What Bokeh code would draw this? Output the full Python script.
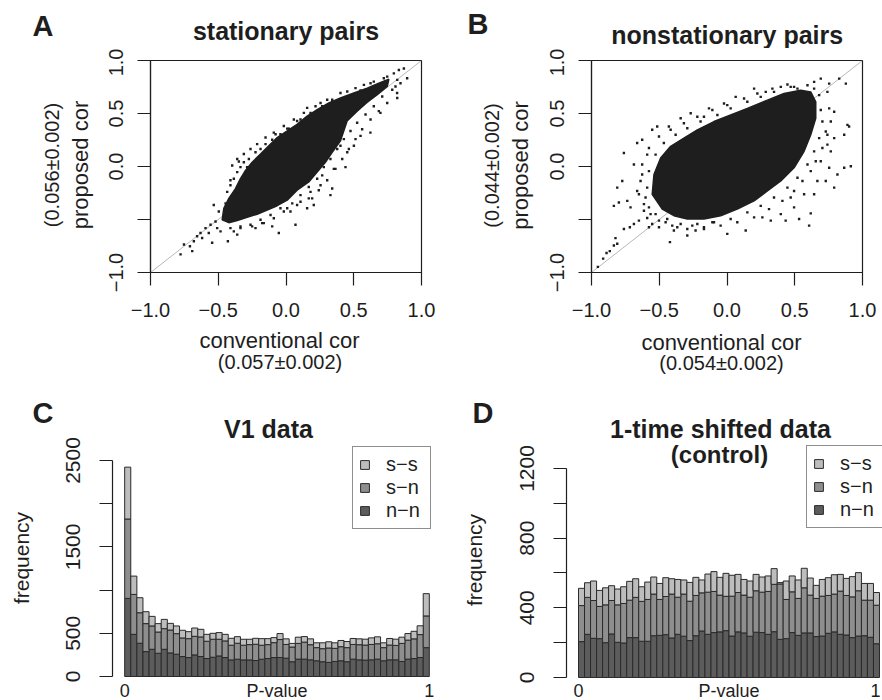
import math
from bokeh.plotting import figure
from bokeh.layouts import column, row
from bokeh.models import ColumnDataSource, FixedTicker, Label, Legend, LegendItem, Range1d
from bokeh.embed import file_html
from bokeh.resources import INLINE

FONT = "Liberation Sans"
INK = "#1e1e1e"
C_SS = "#bdbdbd"
C_SN = "#8e8e8e"
C_NN = "#5c5c5c"

# ---------------- data: correlation scatter panels ----------------
corr_ticks = [-1.0, -0.5, 0.0, 0.5, 1.0]
corr_x_labels = ["−1.0", "−0.5", "0.0", "0.5", "1.0"]
corr_y_labels = ["−1.0", "", "0.0", "0.5", "1.0"]
diag = [-1.0, 1.0]

# stationary pairs: outline of the dense core (conventional cor, proposed cor)
a_core_x = [-0.471, -0.459, -0.422, -0.373, -0.336, -0.299, -0.250, -0.188, -0.127, -0.065,
            0.009, 0.082, 0.156, 0.230, 0.316, 0.402, 0.501, 0.599, 0.685, 0.759,
            0.747, 0.673, 0.599, 0.525, 0.451, 0.402, 0.341, 0.291, 0.230, 0.168,
            0.082, 0.009, -0.065, -0.139, -0.213, -0.287, -0.360, -0.422]
a_core_y = [-0.503, -0.394, -0.301, -0.208, -0.115, -0.037, 0.040, 0.118, 0.196, 0.273,
            0.335, 0.398, 0.475, 0.537, 0.599, 0.646, 0.693, 0.739, 0.786, 0.823,
            0.755, 0.677, 0.606, 0.522, 0.429, 0.242, 0.134, 0.040, -0.053, -0.146,
            -0.224, -0.317, -0.370, -0.410, -0.450, -0.480, -0.510, -0.530]
# stationary pairs: individual pairs around the core
a_pts_x = [-0.778, -0.753, -0.709, -0.692, -0.680, -0.656, -0.631, -0.619, -0.594, -0.570,
           -0.557, -0.545, -0.520, -0.508, -0.483, -0.429, -0.385, -0.360, -0.336, -0.262,
           -0.225, -0.176, -0.102, -0.053, 0.070, -0.533, -0.496, -0.446, -0.410, -0.348,
           -0.287, -0.077, 0.009, 0.082, 0.156, 0.255, 0.341, 0.452, 0.575, 0.648,
           0.747, 0.796, 0.833, 0.870, 0.821, 0.808, 0.821, 0.697, 0.623, 0.550,
           0.501, 0.439, 0.341, 0.328, 0.193, 0.205, 0.156, 0.402, 0.452, 0.353,
           0.267, 0.255, 0.181, 0.107, 0.033, 0.009,
           -0.360, -0.336, -0.311, -0.274, -0.225, -0.188, -0.151, -0.102, -0.041, 0.021,
           0.107, 0.181, 0.267, 0.365, 0.476, 0.550, 0.648, 0.734, -0.385, -0.410,
           -0.434, 0.845, 0.784, 0.710, 0.648, 0.587, 0.525, 0.476, 0.427, 0.378,
           0.328, 0.279, 0.230, 0.168, 0.107, 0.046, -0.041, -0.114, -0.188, -0.336,
           -0.410,
           -0.397, -0.360, -0.311, -0.262, -0.213, -0.151, -0.090, -0.016, 0.058, 0.132,
           0.218, 0.304, 0.402, 0.513, 0.624, 0.722, 0.894, 0.820, 0.747, 0.685,
           0.624, 0.562, 0.513, 0.464, 0.415, 0.365, 0.304, 0.242, 0.168, 0.082,
           -0.016, -0.090, -0.164, -0.250]
a_pts_y = [-0.829, -0.736, -0.752, -0.798, -0.705, -0.658, -0.627, -0.674, -0.581, -0.627,
           -0.550, -0.720, -0.519, -0.581, -0.612, -0.705, -0.612, -0.643, -0.581, -0.550,
           -0.581, -0.534, -0.565, -0.627, -0.550, -0.363, -0.425, -0.348, -0.130, 0.047,
           -0.006, 0.304, 0.357, 0.429, 0.553, 0.599, 0.630, 0.708, 0.770, 0.801,
           0.848, 0.879, 0.910, 0.925, 0.817, 0.755, 0.646, 0.506, 0.320, 0.289,
           0.196, -0.006, -0.208, -0.270, -0.301, -0.363, -0.394, 0.196, 0.134, -0.022,
           -0.084, -0.177, -0.239, -0.332, -0.425, -0.394,
           -0.053, -0.006, 0.040, 0.071, 0.134, 0.165, 0.211, 0.252, 0.304, 0.357,
           0.444, 0.506, 0.568, 0.615, 0.668, 0.717, 0.755, 0.801, -0.115, -0.177,
           -0.239, 0.786, 0.724, 0.661, 0.568, 0.491, 0.413, 0.335, 0.258, 0.165,
           0.071, -0.006, -0.115, -0.193, -0.270, -0.348, -0.394, -0.457, -0.503, -0.565,
           -0.581,
           0.009, 0.071, 0.118, 0.165, 0.211, 0.273, 0.320, 0.382, 0.444, 0.506,
           0.568, 0.630, 0.693, 0.739, 0.786, 0.832, 0.832, 0.693, 0.599, 0.522,
           0.444, 0.351, 0.258, 0.165, 0.071, -0.022, -0.130, -0.224, -0.301, -0.363,
           -0.425, -0.488, -0.534, -0.565]

# nonstationary pairs: outline of the dense core
b_core_x = [-0.552, -0.539, -0.490, -0.416, -0.318, -0.219, -0.096, 0.027, 0.150, 0.298,
            0.421, 0.544, 0.618, 0.655, 0.655, 0.618, 0.569, 0.495, 0.397, 0.298,
            0.200, 0.076, -0.047, -0.170, -0.293, -0.392, -0.478]
b_core_y = [-0.262, -0.075, 0.081, 0.190, 0.268, 0.346, 0.424, 0.486, 0.548, 0.626,
            0.688, 0.720, 0.704, 0.611, 0.455, 0.299, 0.143, -0.012, -0.137, -0.231,
            -0.324, -0.402, -0.464, -0.495, -0.495, -0.464, -0.402]
# nonstationary pairs: individual pairs around the core
b_pts_x = [-0.953, -0.914, -0.889, -0.865, -0.835, -0.810, -0.823, -0.761, -0.717, -0.687,
           -0.650, -0.589, -0.576, -0.552, -0.502, -0.453, -0.421, -0.392, -0.367, -0.293,
           -0.256, -0.232, -0.170, -0.108, 0.002, 0.138, 0.261, 0.323, 0.397, 0.433,
           0.532, 0.606, 0.618, 0.495, 0.791, 0.729, 0.815, 0.865, 0.914, 0.889,
           0.901, 0.865, 0.791, 0.877, 0.828, 0.754, 0.692, 0.643, 0.520, 0.470,
           0.397, 0.286, 0.200, 0.064, -0.022, -0.133, -0.170, -0.268, -0.342, -0.429,
           -0.515, -0.552, -0.626, -0.663, -0.687, -0.773, -0.761, -0.810, -0.835, -0.798,
           -0.736, -0.712, -0.663, -0.626, -0.589, -0.613, 0.741, 0.766, 0.692, 0.729,
           0.791, 0.754, 0.667, 0.643, 0.569, 0.470,
           -0.589, -0.601, -0.576, -0.527, -0.466, -0.379, -0.293, -0.195, -0.071, 0.027,
           0.150, 0.249, 0.347, 0.495, 0.594, 0.680, 0.692, 0.704, 0.680, 0.643,
           0.594, 0.520, 0.446, 0.347, 0.249, 0.150, 0.027, -0.096, -0.219, -0.342,
           -0.441, -0.527, -0.576,
           -0.638, -0.650, -0.626, -0.576, -0.502, -0.416, -0.318, -0.219, -0.108, 0.002,
           0.126, 0.224, 0.335, 0.446, 0.643, 0.741, 0.754, 0.766, 0.741, 0.704,
           0.655, 0.618, 0.557, 0.495, 0.409, 0.310, 0.200, 0.076, -0.047, -0.170,
           -0.293, -0.404, -0.502, -0.564, -0.613]
b_pts_y = [-0.947, -0.869, -0.816, -0.798, -0.745, -0.729, -0.676, -0.589, -0.573, -0.542,
           -0.511, -0.486, -0.573, -0.542, -0.573, -0.526, -0.713, -0.604, -0.573, -0.651,
           -0.558, -0.604, -0.573, -0.526, -0.636, -0.604, -0.480, -0.511, -0.449, -0.511,
           -0.495, -0.558, -0.442, -0.386, -0.199, -0.137, -0.075, -0.012, 0.003, 0.393,
           0.377, 0.299, 0.517, 0.782, 0.829, 0.782, 0.829, 0.735, 0.735, 0.751,
           0.751, 0.704, 0.735, 0.657, 0.595, 0.548, 0.470, 0.502, 0.455, 0.377,
           0.377, 0.346, 0.252, 0.221, 0.019, -0.137, 0.128, -0.199, -0.371, -0.340,
           -0.324, -0.386, -0.231, -0.075, 0.112, -0.417, 0.206, 0.143, 0.050, 0.330,
           0.268, -0.012, -0.137, -0.262, -0.262, -0.293,
           -0.199, -0.293, -0.044, 0.112, 0.221, 0.299, 0.361, 0.424, 0.486, 0.548,
           0.611, 0.657, 0.704, 0.751, 0.766, 0.673, 0.533, 0.424, 0.268, 0.143,
           0.019, -0.106, -0.199, -0.293, -0.371, -0.433, -0.495, -0.526, -0.542, -0.542,
           -0.495, -0.449, -0.386,
           -0.137, -0.262, 0.019, 0.174, 0.283, 0.346, 0.408, 0.470, 0.533, 0.579,
           0.642, 0.688, 0.735, 0.773, 0.798, 0.704, 0.548, 0.424, 0.299, 0.174,
           0.050, -0.044, -0.137, -0.231, -0.324, -0.402, -0.480, -0.526, -0.558, -0.589,
           -0.589, -0.558, -0.511, -0.449, -0.355]

# ---------------- data: P-value histograms (50 bins of width 0.02) ----------------
n_bins = 50
bin_width = 0.02
bin_mid = [bin_width * (i + 0.5) for i in range(n_bins)]

v1_nn = [904, 488, 385, 288, 315, 269, 315, 273, 258, 231, 219, 250, 231, 208, 223, 238, 219,
         192, 200, 192, 192, 185, 200, 208, 219, 220, 212, 171, 201, 201, 193, 182, 171, 163,
         174, 182, 171, 201, 193, 190, 193, 201, 182, 193, 193, 174, 201, 208, 220, 334]
v1_sn = [919, 462, 353, 324, 270, 246, 239, 265, 238, 215, 219, 215, 227, 200, 208, 193, 193,
         170, 185, 170, 177, 188, 162, 161, 173, 208, 159, 170, 182, 197, 175, 152, 151, 167,
         152, 163, 163, 170, 175, 174, 178, 178, 152, 171, 167, 209, 220, 228, 265, 367]
v1_ss = [600, 212, 174, 138, 111, 97, 107, 77, 89, 89, 81, 96, 88, 80, 69, 77, 76,
         80, 76, 69, 62, 69, 76, 69, 58, 69, 65, 42, 72, 64, 68, 56, 68, 72,
         64, 72, 71, 69, 68, 68, 76, 80, 56, 76, 72, 72, 76, 87, 102, 258]

sh_nn = [206, 248, 225, 223, 200, 250, 202, 198, 229, 229, 208, 208, 240, 242, 246, 227, 248,
         237, 212, 240, 267, 248, 258, 262, 269, 238, 262, 256, 237, 260, 258, 248, 263, 219,
         223, 258, 242, 256, 256, 235, 238, 254, 262, 248, 244, 229, 238, 240, 231, 194]
sh_sn = [207, 212, 217, 185, 217, 192, 215, 227, 215, 231, 229, 240, 239, 206, 219, 252, 213,
         242, 226, 231, 219, 242, 236, 211, 197, 229, 226, 217, 224, 238, 232, 246, 272, 318,
         225, 234, 212, 259, 217, 219, 229, 217, 217, 248, 227, 234, 260, 204, 213, 221]
sh_ss = [99, 84, 112, 92, 98, 85, 91, 96, 108, 107, 84, 100, 98, 92, 108, 88, 102,
         81, 108, 104, 74, 104, 114, 102, 132, 120, 104, 90, 93, 94, 87, 89, 90, 8,
         106, 91, 106, 112, 98, 75, 96, 102, 111, 96, 98, 116, 104, 96, 96, 73]

v1_ticks = [0, 500, 1000, 1500, 2000, 2500]
v1_tick_labels = ["0", "500", "", "1500", "", "2500"]
sh_ticks = [0, 200, 400, 600, 800, 1000, 1200]
sh_tick_labels = ["0", "", "400", "", "800", "", "1200"]
pvalue_ticks = [0.0, 0.5, 1.0]
pvalue_labels = ["0", "P-value", "1"]
legend_labels = ["s−s", "s−n", "n−n"]

HALF_PI = math.pi / 2


def add_text(p, x, y, text, size, bold=False, angle=0.0, x_units="screen", x_offset=0):
    p.add_layout(Label(x=x, y=y, x_units=x_units, y_units="screen", text=text,
                       x_offset=x_offset,
                       text_font=FONT, text_font_size=f"{size}px",
                       text_font_style="bold" if bold else "normal",
                       text_color=INK, text_align="center", text_baseline="middle",
                       angle=angle))


def strip(width, height, mbt=0, mbb=0):
    p = figure(width=width, height=height, x_range=Range1d(0, width),
               y_range=Range1d(0, height - mbt - mbb),
               min_border_left=0, min_border_right=0, min_border_top=mbt, min_border_bottom=mbb,
               x_axis_location=None, y_axis_location=None,
               toolbar_location=None, output_backend="svg", title=None)
    p.grid.visible = False
    p.outline_line_color = None
    p.background_fill_color = "white"
    p.border_fill_color = "white"
    return p


def style_axis(ax, ticks, labels, size, standoff):
    ax.ticker = FixedTicker(ticks=ticks)
    ax.major_label_overrides = dict(zip(ticks, labels))
    ax.minor_tick_line_color = None
    ax.major_tick_out = 13
    ax.major_tick_in = 0
    ax.major_tick_line_color = INK
    ax.major_tick_line_width = 1.2
    ax.axis_line_color = INK
    ax.axis_line_width = 1.2
    ax.major_label_text_font = FONT
    ax.major_label_text_font_size = f"{size}px"
    ax.major_label_text_color = INK
    ax.major_label_standoff = standoff


def scatter_fig(mbt, mbb, cx, cy, px, py):
    p = figure(width=345, height=279, x_range=Range1d(-1, 1), y_range=Range1d(-1, 1),
               min_border_left=54, min_border_right=20, min_border_top=mbt,
               min_border_bottom=mbb, toolbar_location=None, output_backend="svg", title=None)
    p.grid.visible = False
    p.background_fill_color = "white"
    p.border_fill_color = "white"
    p.outline_line_color = INK
    p.outline_line_width = 1.2
    p.outline_line_alpha = 1.0
    p.line(diag, diag, line_color="#b8b8b8", line_width=1)
    p.patch(cx, cy, fill_color=INK, line_color=INK, line_width=1.5)
    p.scatter(px, py, marker="square", size=2.4, fill_color=INK, line_color=None)
    style_axis(p.xaxis[0], corr_ticks, corr_x_labels, 20, 17)
    style_axis(p.yaxis[0], corr_ticks, corr_y_labels, 20, 15)
    p.yaxis[0].major_label_orientation = "vertical"
    return p


def hist_fig(width, mbl, x_start, x_end, y_lo, y_hi, ticks, tick_labels, nn, sn, ss, leg_loc,
             last_label_offset=0):
    src = ColumnDataSource(dict(x=bin_mid, nn=nn, sn=sn, ss=ss))
    p = figure(width=width, height=314, x_range=Range1d(x_start, x_end), y_range=Range1d(y_lo, y_hi),
               min_border_left=mbl, min_border_right=0, min_border_top=0, min_border_bottom=0,
               x_axis_location=None, toolbar_location=None, output_backend="svg", title=None)
    p.grid.visible = False
    p.outline_line_color = None
    p.background_fill_color = "white"
    p.border_fill_color = "white"
    rs = p.vbar_stack(["nn", "sn", "ss"], x="x", width=bin_width, source=src,
                      fill_color=[C_NN, C_SN, C_SS], line_color="#2a2a2a", line_width=1)
    ax = p.yaxis[0]
    style_axis(ax, ticks, tick_labels, 21, 19)
    ax.bounds = (ticks[0], ticks[-1])
    ax.major_label_orientation = "vertical"
    legend = Legend(items=[LegendItem(label=legend_labels[0], renderers=[rs[2]]),
                           LegendItem(label=legend_labels[1], renderers=[rs[1]]),
                           LegendItem(label=legend_labels[2], renderers=[rs[0]])],
                    location=leg_loc, margin=0, padding=6, spacing=0,
                    glyph_width=11, glyph_height=11, label_standoff=16, label_width=38,
                    label_text_font=FONT, label_text_font_size="20px", label_text_color=INK,
                    border_line_color=INK, border_line_width=1, background_fill_color="white",
                    background_fill_alpha=1.0)
    p.add_layout(legend)
    offsets = [0, 0, last_label_offset]
    for xv, txt, off in zip(pvalue_ticks, pvalue_labels, offsets):
        add_text(p, xv, 10, txt, 18, x_units="data", x_offset=off)
    return p


# ---- top header strip ----
top = strip(882, 48)
add_text(top, 42.5, 23, "A", 29, bold=True)
add_text(top, 285.5, 17.4, "stationary pairs", 25, bold=True)
add_text(top, 477.5, 24.7, "B", 29, bold=True)
add_text(top, 726.7, 14, "nonstationary pairs", 25, bold=True)

# ---- scatter row (strip frames aligned with the plot frames) ----
sa = strip(96, 279, mbt=9, mbb=55)
add_text(sa, 79.9, 107.5, "proposed cor", 22, angle=HALF_PI)
add_text(sa, 51.9, 107.5, "(0.056±0.002)", 20, angle=HALF_PI)
pa = scatter_fig(9, 55, a_core_x, a_core_y, a_pts_x, a_pts_y)

sb = strip(96, 279, mbt=12, mbb=53)
add_text(sb, 78.8, 107, "proposed cor", 22, angle=HALF_PI)
add_text(sb, 50.9, 107, "(0.044±0.002)", 20, angle=HALF_PI)
pb = scatter_fig(12, 53, b_core_x, b_core_y, b_pts_x, b_pts_y)

# ---- x-axis titles of the scatter panels ----
mid = strip(882, 59)
add_text(mid, 279, 45.6, "conventional cor", 22)
add_text(mid, 279.5, 24.9, "(0.057±0.002)", 20)
add_text(mid, 721, 43.6, "conventional cor", 22)
add_text(mid, 721, 23.9, "(0.054±0.002)", 20)

# ---- histogram row ----
sc = strip(56, 314)
add_text(sc, 42.5, 288, "C", 29, bold=True)
add_text(sc, 21.2, 142.5, "frequency", 21, angle=HALF_PI)
pc = hist_fig(385, 56, -0.04, 1.04, -277.8, 3356.5, v1_ticks, v1_tick_labels,
              v1_nn, v1_sn, v1_ss, (240, 171))
add_text(pc, 156, 272, "V1 data", 25, bold=True)

sd = strip(54, 314)
add_text(sd, 41.5, 288, "D", 29, bold=True)
add_text(sd, 33, 140.5, "frequency", 21, angle=HALF_PI)
pd_ = hist_fig(387, 71, -0.0399, 1.01, -132.1, 1670.8, sh_ticks, sh_tick_labels,
               sh_nn, sh_sn, sh_ss, (240, 172), last_label_offset=-4)
add_text(pd_, 154, 272, "1-time shifted data", 25, bold=True)
add_text(pd_, 153, 246.3, "(control)", 24, bold=True)

layout = column(top, row(sa, pa, sb, pb), mid, row(sc, pc, sd, pd_))
open("out.html", "w").write(file_html(layout, INLINE))
